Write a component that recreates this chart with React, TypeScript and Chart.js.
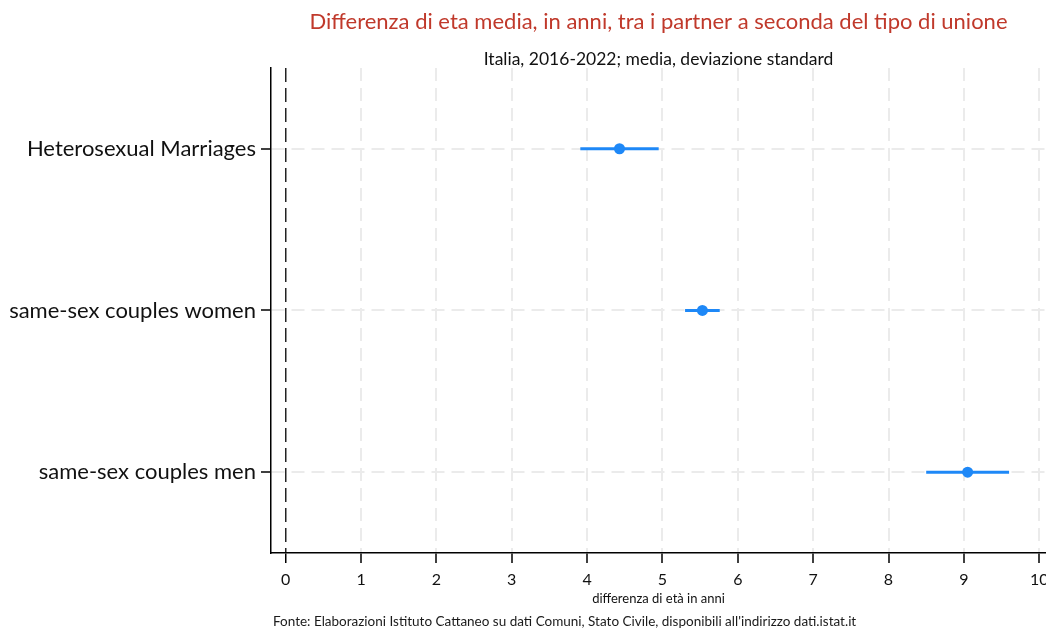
import { useEffect, useRef } from 'react';
import { Chart, registerables } from 'chart.js';

Chart.register(...registerables);

const categories = ['Heterosexual Marriages', 'same-sex couples women', 'same-sex couples men'];
const means = [4.43, 5.53, 9.05];
const stdDevs = [0.52, 0.23, 0.55];
const xTickValues = [0, 1, 2, 3, 4, 5, 6, 7, 8, 9, 10];

const TITLE = 'Differenza di eta media, in anni, tra i partner a seconda del tipo di unione';
const SUBTITLE = 'Italia, 2016-2022; media, deviazione standard';
const X_TITLE = 'differenza di età in anni';
const FOOTNOTE = "Fonte: Elaborazioni Istituto Cattaneo su dati Comuni, Stato Civile, disponibili all'indirizzo dati.istat.it";

const BLUE = '#1e88f7';
const GRID = '#ebebeb';
const FONT = 'Lato, "Open Sans", sans-serif';

const footnotePlugin = {
  id: 'footnote',
  afterDraw(chart: any) {
    const { ctx, chartArea } = chart;
    ctx.save();
    ctx.font = `13.5px ${FONT}`;
    ctx.fillStyle = '#1a1a1a';
    ctx.textAlign = 'left';
    ctx.textBaseline = 'middle';
    ctx.fillText(FOOTNOTE, chartArea.left + 2, chart.height - 8);
    ctx.restore();
  },
};

export default function App() {
  const ref = useRef<HTMLCanvasElement | null>(null);

  useEffect(() => {
    if (!ref.current) return;
    Chart.defaults.font.family = FONT;

    const errorBars = categories.map((cat, i) => ({
      type: 'line' as const,
      data: [
        { x: means[i] - stdDevs[i], y: cat },
        { x: means[i] + stdDevs[i], y: cat },
      ],
      borderColor: BLUE,
      borderWidth: 3,
      pointRadius: 0,
      showLine: true,
      order: 2,
    }));

    const chart = new Chart(ref.current, {
      type: 'scatter',
      data: {
        datasets: [
          {
            data: categories.map((cat, i) => ({ x: means[i], y: cat })),
            backgroundColor: BLUE,
            borderColor: BLUE,
            borderWidth: 0,
            pointRadius: 5.5,
            order: 0,
          } as any,
          ...(errorBars as any[]),
        ],
      },
      options: {
        responsive: false,
        animation: false,
        layout: { autoPadding: false, padding: { left: 0, right: 0, top: 0, bottom: 20 } },
        plugins: {
          legend: { display: false },
          tooltip: { enabled: false },
          title: {
            display: true,
            text: TITLE,
            color: '#c0392b',
            font: { size: 22, weight: 'normal', family: FONT, lineHeight: 1.2 },
            padding: { top: 9, bottom: 7 },
            fullSize: false,
          },
          subtitle: {
            display: true,
            text: SUBTITLE,
            color: '#111',
            font: { size: 17.5, weight: 'normal', family: FONT, lineHeight: 1.0 },
            padding: { top: 8, bottom: 0 },
            fullSize: false,
          },
        },
        scales: {
          x: {
            type: 'linear',
            min: -0.195,
            max: 10.09,
            afterBuildTicks: (s: any) => {
              s.ticks = xTickValues.map((v) => ({ value: v }));
            },
            afterFit: (s: any) => {
              s.paddingLeft = 0;
              s.paddingRight = 0;
              s.height = 57;
            },
            ticks: {
              color: '#111',
              font: { size: 16 },
              padding: 7,
              maxRotation: 0,
              autoSkip: false,
            },
            grid: {
              color: (c: any) => (c.tick && c.tick.value === 0 ? '#222' : GRID),
              lineWidth: (c: any) => (c.tick && c.tick.value === 0 ? 1.5 : 2),
              tickColor: '#000',
              tickLength: 10,
              tickWidth: 1.5,
              tickBorderDash: [],
            },
            border: {
              display: true,
              color: '#000',
              width: 1.5,
              dash: (c: any) => (c.tick && c.tick.value === 0 ? [14, 6] : [13, 7]),
            },
            title: {
              display: true,
              text: X_TITLE,
              color: '#111',
              font: { size: 13 },
              padding: { top: 3, bottom: 3 },
            },
          },
          y: {
            type: 'category',
            labels: categories,
            offset: true,
            afterFit: (s: any) => {
              s.width = 271;
            },
            ticks: {
              color: '#111',
              font: { size: 22 },
              padding: 5,
            },
            grid: {
              offset: false,
              color: GRID,
              lineWidth: 2,
              tickColor: '#000',
              tickLength: 10,
              tickWidth: 1.5,
              tickBorderDash: [],
            },
            border: {
              display: true,
              color: '#000',
              width: 1.5,
              dash: [13, 7],
            },
          },
        },
      } as any,
      plugins: [footnotePlugin],
    });

    return () => chart.destroy();
  }, []);

  return (
    <div style={{ position: 'absolute', left: 0, top: 0, width: 1046, height: 630, background: '#fff' }}>
      <canvas ref={ref} width={1046} height={630} style={{ width: 1046, height: 630, display: 'block' }} />
    </div>
  );
}
